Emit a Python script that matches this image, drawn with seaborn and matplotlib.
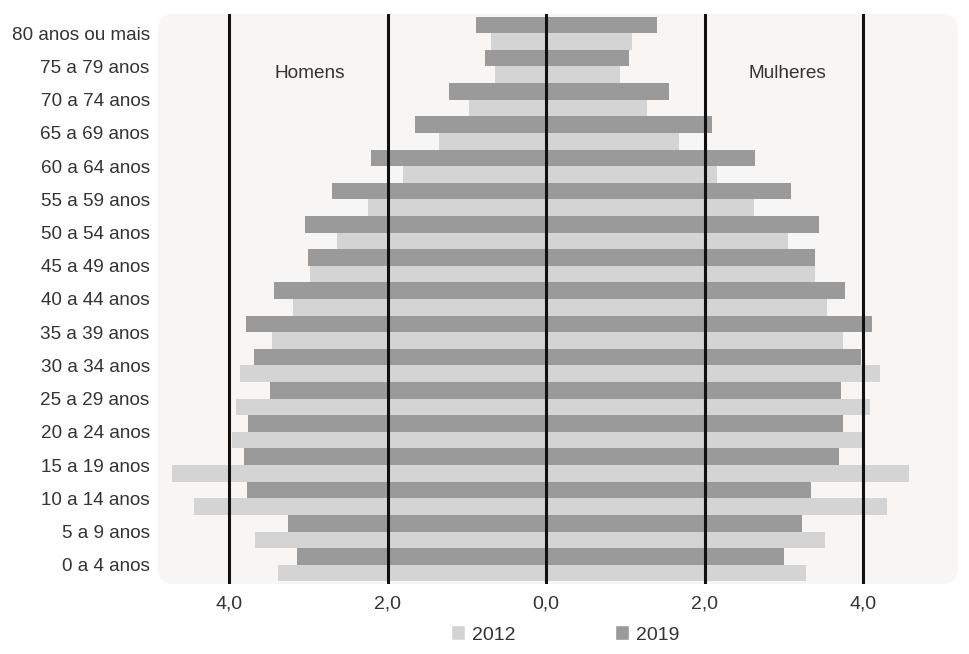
import numpy as np
import pandas as pd
import matplotlib
matplotlib.use("Agg")
import matplotlib.pyplot as plt
from matplotlib.patches import FancyBboxPatch, Patch
import seaborn as sns

ages = [
    "80 anos ou mais", "75 a 79 anos", "70 a 74 anos", "65 a 69 anos",
    "60 a 64 anos", "55 a 59 anos", "50 a 54 anos", "45 a 49 anos",
    "40 a 44 anos", "35 a 39 anos", "30 a 34 anos", "25 a 29 anos",
    "20 a 24 anos", "15 a 19 anos", "10 a 14 anos", "5 a 9 anos", "0 a 4 anos",
]
men_2012 = [0.69, 0.64, 0.97, 1.35, 1.81, 2.25, 2.64, 2.98, 3.20, 3.46,
            3.87, 3.92, 3.96, 4.72, 4.44, 3.68, 3.38]
men_2019 = [0.88, 0.77, 1.23, 1.66, 2.21, 2.70, 3.05, 3.00, 3.43, 3.79,
            3.69, 3.48, 3.77, 3.81, 3.78, 3.26, 3.15]
women_2012 = [1.09, 0.93, 1.27, 1.68, 2.16, 2.62, 3.05, 3.40, 3.55, 3.75,
              4.21, 4.09, 3.99, 4.58, 4.30, 3.52, 3.28]
women_2019 = [1.40, 1.05, 1.55, 2.09, 2.64, 3.09, 3.44, 3.40, 3.77, 4.12,
              3.97, 3.72, 3.75, 3.70, 3.35, 3.23, 3.00]
years = ["2019", "2012"]
xticks = [-4, -2, 0, 2, 4]
xtick_labels = ["4,0", "2,0", "0,0", "2,0", "4,0"]

colors = {"2012": "#d4d4d4", "2019": "#999a99"}
text_color = "#333333"

sns.set_theme(style="white")
plt.rcParams["font.family"] = ["Liberation Sans", "DejaVu Sans"]

men = pd.DataFrame({
    "age": ages * 2,
    "year": ["2019"] * len(ages) + ["2012"] * len(ages),
    "value": [-v for v in men_2019] + [-v for v in men_2012],
})
women = pd.DataFrame({
    "age": ages * 2,
    "year": ["2019"] * len(ages) + ["2012"] * len(ages),
    "value": women_2019 + women_2012,
})

fig = plt.figure(figsize=(9.7, 6.54), dpi=100)
ax = fig.add_axes([158 / 970, 1 - 584 / 654, 800 / 970, 570 / 654])
ax.set_facecolor("none")

# rounded light panel behind the bars
panel = FancyBboxPatch((0, 0), 1, 1, boxstyle="round,pad=0,rounding_size=0.02",
                       transform=ax.transAxes, facecolor="#f7f6f5",
                       edgecolor="none", zorder=0, clip_on=False,
                       mutation_aspect=800 / 570)
ax.add_patch(panel)

for df in (men, women):
    sns.barplot(data=df, y="age", x="value", hue="year", order=ages,
                hue_order=years, palette=colors, orient="h", width=1.0,
                saturation=1, linewidth=0, errorbar=None, legend=False,
                ax=ax, zorder=2)

for xv in xticks:
    ax.axvline(xv, color="#111111", lw=2.2, zorder=3)

ax.set_xlim(-4.90, 5.20)
ax.set_ylim(16.58, -0.58)
ax.set_xticks(xticks)
ax.set_xticklabels(xtick_labels)
ax.tick_params(axis="both", length=0, colors=text_color)
ax.tick_params(axis="x", pad=8, labelsize=14)
ax.tick_params(axis="y", pad=6, labelsize=13.6)
ax.set_xlabel("")
ax.set_ylabel("")
sns.despine(ax=ax, left=True, bottom=True)

ax.text(-2.98, 1.2, "Homens", ha="center", va="center", fontsize=13.7,
        color=text_color, zorder=4)
ax.text(3.04, 1.2, "Mulheres", ha="center", va="center", fontsize=13.7,
        color=text_color, zorder=4)

handles = [Patch(facecolor=colors["2012"], label="2012"),
           Patch(facecolor=colors["2019"], label="2019")]
fig.legend(handles=handles, loc="center",
           bbox_to_anchor=(565.5 / 970, 1 - 634.5 / 654),
           ncol=2, frameon=False, fontsize=14, handlelength=0.72,
           handleheight=0.77, handletextpad=0.36, columnspacing=5.1,
           labelcolor=text_color, borderpad=0)

fig.savefig("out.png", dpi=100)
